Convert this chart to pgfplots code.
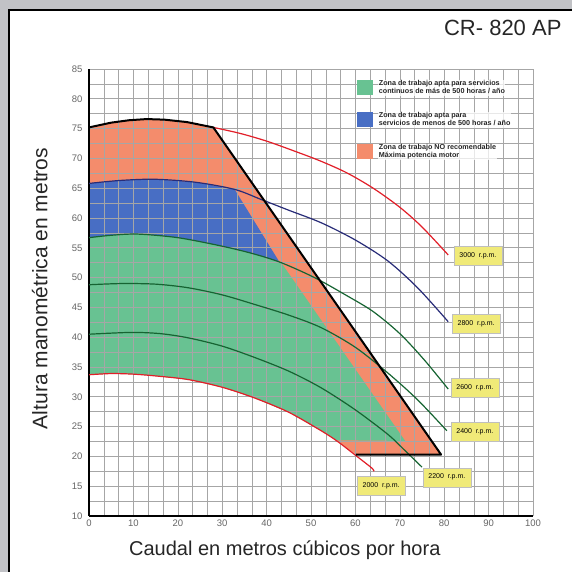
\documentclass[border=0pt]{standalone}
\usepackage{fontspec}
\setmainfont{Liberation Sans}
\usepackage{pgfplots}
\pgfplotsset{compat=1.18}

\definecolor{bggray}{RGB}{193,194,198}
\definecolor{zgreen}{RGB}{104,194,146}
\definecolor{zblue}{RGB}{72,110,196}
\definecolor{zsalmon}{RGB}{244,140,108}
\definecolor{c3000}{RGB}{226,30,40}
\definecolor{c2800}{RGB}{40,44,120}
\definecolor{cgreen}{RGB}{22,100,50}
\definecolor{lblyellow}{RGB}{240,234,120}

\pgfplotsset{
  base/.style={at={(89pt,56pt)}, anchor=south west, scale only axis,
    width=444pt, height=447pt, xmin=0, xmax=100, ymin=10, ymax=85},
}
\tikzset{
  rpm/.style={draw=black!25, fill=lblyellow, minimum width=48pt, minimum height=19pt,
    inner sep=1pt, font=\fontsize{7}{8}\selectfont},
}

\begin{document}
\begin{tikzpicture}
\path[use as bounding box] (0,0) rectangle (572pt,572pt);
\fill[bggray] (0,0) rectangle (572pt,572pt);
\fill[white] (9pt,0) rectangle (572pt,562pt);
\draw[line width=2.4pt] (9pt,0) -- (9pt,562pt) -- (572pt,562pt);
\node[anchor=base east, font=\fontsize{22}{24}\selectfont, text=black!85] at (565pt,536pt) {CR- 820 AP};

% zonas de trabajo (debajo de la rejilla)
\begin{axis}[base, axis lines=none]
\addplot[draw=none, fill=zsalmon] coordinates {
(0,75.2)(5,76.0)(9,76.4)(13,76.6)(17,76.5)(22,76.1)(28,75.2)(79.3,20.3)(60.1,20.3)
(56,22.5)(52.3,24.3)(45,27.4)(37.3,29.8)(30,31.6)(22.3,32.9)(15,33.5)(10,33.8)(5,33.9)(0,33.7)};
\addplot[draw=none, fill=zblue] coordinates {
(0,65.8)(7,66.3)(14.8,66.5)(24,66.0)(32.8,64.8)(42.9,52.6)(37,54.0)(29.8,55.3)(20,56.7)
(11,57.3)(5,57.1)(0,56.7)};
\addplot[draw=none, fill=zgreen] coordinates {
(0,56.7)(5,57.1)(11,57.3)(20,56.7)(29.8,55.3)(37,54.0)(43.3,52.5)(71.2,22.6)(55.6,22.7)
(52.3,24.3)(45,27.4)(37.3,29.8)(30,31.6)(22.3,32.9)(15,33.5)(10,33.8)(5,33.9)(0,33.7)};
\end{axis}

% curvas
\begin{axis}[base,
  axis x line*=bottom, axis y line*=left,
  axis line style={line width=1.6pt, -},
  xtick={0,10,...,100}, ytick={10,15,...,85},
  minor x tick num=2, minor y tick num=1,
  grid=both, grid style={black!35, line width=0.6pt},
  major tick length=0pt, minor tick length=0pt,
  /pgf/number format/assume math mode=true,
  ticklabel style={font=\fontsize{9.5}{10}\selectfont, text=black!60},
  yticklabel style={xshift=-3pt},
  xlabel={Caudal en metros cúbicos por hora},
  ylabel={Altura manométrica en metros},
  label style={text=black!85},
  xlabel style={font=\fontsize{20}{22}\selectfont, at={(axis description cs:0.441,0)}, anchor=north, yshift=-21pt},
  ylabel style={font=\fontsize{21}{23}\selectfont, at={(axis description cs:0,0.509)}, anchor=south, yshift=38pt},
  legend cell align=left,
  legend image code/.code={\fill[#1] (0pt,-7.5pt) rectangle (16pt,7.5pt);},
  legend style={at={(axis cs:60.4,83.2)}, anchor=north west, draw=none, fill=none,
    inner sep=0pt, row sep=16pt,
    /tikz/every odd column/.append style={column sep=5pt},
    font=\fontsize{7.2}{8.2}\selectfont\bfseries,
    nodes={align=left, inner sep=0.5pt, text=black!85, fill=white, fill opacity=0.75, text opacity=1}},
]
\addlegendimage{draw=none, fill=zgreen}
\addlegendentry{Zona de trabajo apta para servicios\\continuos de más de 500 horas / año}
\addlegendimage{draw=none, fill=zblue}
\addlegendentry{Zona de trabajo apta para\\servicios de menos de 500 horas / año}
\addlegendimage{draw=none, fill=zsalmon}
\addlegendentry{Zona de trabajo NO recomendable\\Máxima potencia motor}
\addplot[c3000, line width=1.2pt, smooth, forget plot] coordinates {
(28,75.2)(34,74.2)(40,72.9)(46,71.3)(52,69.6)(58,67.6)(64,65.0)(70,61.8)(75,58.5)(80.9,53.8)};
\addplot[c2800, line width=1.2pt, smooth, forget plot] coordinates {
(0,65.8)(7,66.3)(14.8,66.5)(24,66.0)(32.8,64.8)(38.8,63.1)(45,61.3)(52.3,59.2)(60,56.3)(67.3,52.8)(74,48.3)(80.9,42.6)};
\addplot[cgreen, line width=1.2pt, smooth, forget plot] coordinates {
(0,56.7)(5,57.1)(11,57.3)(20,56.7)(29.8,55.3)(37,54.0)(43.3,52.5)(50.8,50.0)(58,47.0)(64,44.3)(70,40.6)(75.5,36.2)(80.9,31.3)};
\addplot[cgreen, line width=1.2pt, smooth, forget plot] coordinates {
(0,48.8)(7.3,49.0)(15,48.9)(22.3,48.3)(30,47.1)(37.3,45.5)(45,43.7)(52.3,41.6)(60,38.3)(67.3,34.0)(74,29.5)(80.6,24.3)};
\addplot[cgreen, line width=1.2pt, smooth, forget plot] coordinates {
(0,40.5)(9.5,40.8)(16,40.6)(22.3,39.9)(30,38.5)(37.3,36.6)(45,34.3)(52.3,31.5)(60,27.8)(67.3,23.7)(71,21.1)(75,18.2)};
\addplot[c3000, line width=1.2pt, smooth, forget plot] coordinates {
(0,33.7)(5,33.9)(10,33.8)(15,33.5)(22.3,32.9)(30,31.6)(37.3,29.8)(45,27.4)(52.3,24.3)(56,22.5)(60,20.2)(63.6,18.1)(64.2,17.5)};
\addplot[black, line width=2pt, line join=round, forget plot] coordinates {
(0,75.2)(5,76.0)(9,76.4)(13,76.6)(17,76.5)(22,76.1)(28,75.2)(79.3,20.3)(60.1,20.3)};
\node[rpm] at (axis cs:87.6,53.6) {3000\ \ r.p.m.};
\node[rpm] at (axis cs:87.2,42.2) {2800\ \ r.p.m.};
\node[rpm] at (axis cs:86.9,31.5) {2600\ \ r.p.m.};
\node[rpm] at (axis cs:86.9,24.1) {2400\ \ r.p.m.};
\node[rpm] at (axis cs:80.6,16.5) {2200\ \ r.p.m.};
\node[rpm] at (axis cs:65.8,15.0) {2000\ \ r.p.m.};
\end{axis}
\end{tikzpicture}
\end{document}
